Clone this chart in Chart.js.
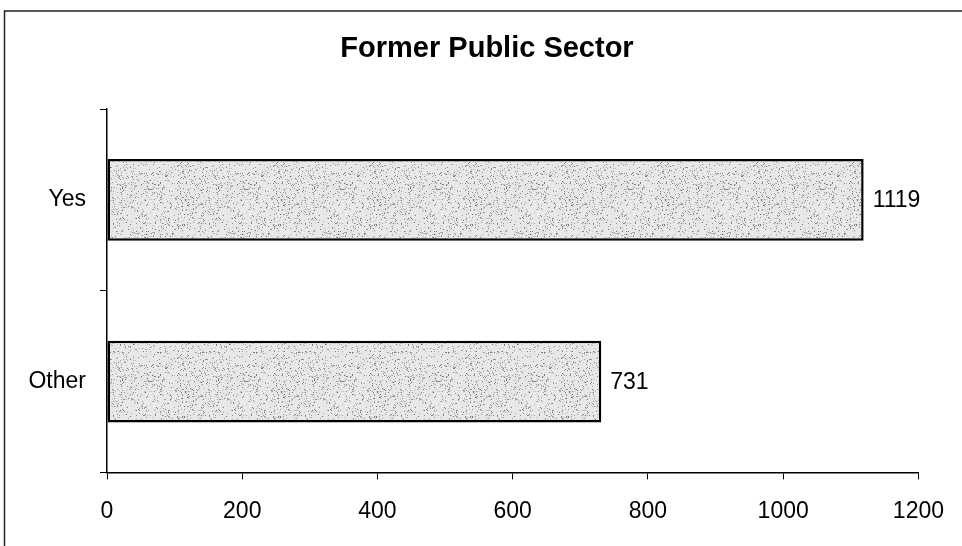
<!DOCTYPE html>
<html>
<head>
<meta charset="utf-8">
<script src="https://cdn.jsdelivr.net/npm/chart.js@4.4.0/dist/chart.umd.min.js"></script>
<style>
    html, body { margin: 0; padding: 0; background: #fff; }
    #wrap { width: 962px; height: 546px; position: relative; }
</style>
</head>
<body>
<div id="wrap"><canvas id="chart" width="962" height="546"></canvas></div>
<script>
// Data
const chartTitle = 'Former Public Sector';
const categories = ['Yes', 'Other'];
const values = [1119, 731];
const xTicks = [0, 200, 400, 600, 800, 1000, 1200];

const FONT = '"Liberation Sans", Arial, sans-serif';

// Stippled grey fill, like the scanned original (fixed seed so it looks the same every run)
function makeStipple() {
    const c = document.createElement('canvas');
    c.width = 96; c.height = 96;
    const g = c.getContext('2d');
    g.fillStyle = '#e8e8e8';
    g.fillRect(0, 0, 96, 96);
    let seed = 12345;
    const rnd = () => { seed = (seed * 1103515245 + 12345) % 2147483648; return seed / 2147483648; };
    for (let i = 0; i < 1300; i++) {
        const shade = Math.floor(110 + rnd() * 100);
        g.fillStyle = `rgb(${shade},${shade},${shade})`;
        g.fillRect(Math.floor(rnd() * 96), Math.floor(rnd() * 96), 1, 1);
    }
    return g.createPattern(c, 'repeat');
}

// Frame lines (top and left only, as in the scan) + title centred on the page
const framePlugin = {
    id: 'frame',
    afterDraw(chart) {
        const ctx = chart.ctx;
        ctx.save();
        ctx.strokeStyle = '#222';
        ctx.lineWidth = 1.5;
        ctx.beginPath();
        ctx.moveTo(4.5, 546);
        ctx.lineTo(4.5, 11);
        ctx.lineTo(962, 11);
        ctx.stroke();

        ctx.font = 'bold 29px ' + FONT;
        ctx.fillStyle = '#000';
        ctx.textAlign = 'center';
        ctx.textBaseline = 'middle';
        ctx.fillText(chartTitle, 487, 49);
        ctx.restore();
    }
};

// Value labels at the bar ends
const valueLabels = {
    id: 'valueLabels',
    afterDatasetsDraw(chart) {
        const ctx = chart.ctx;
        const meta = chart.getDatasetMeta(0);
        ctx.save();
        ctx.font = '23px ' + FONT;
        ctx.fillStyle = '#000';
        ctx.textAlign = 'left';
        ctx.textBaseline = 'middle';
        meta.data.forEach((bar, i) => {
            ctx.fillText(String(values[i]), bar.x + 9, bar.y + 1);
        });
        ctx.restore();
    }
};

const tickFont = { family: FONT, size: 23 };

new Chart(document.getElementById('chart').getContext('2d'), {
    type: 'bar',
    data: {
        labels: categories,
        datasets: [{
            data: values,
            backgroundColor: makeStipple(),
            borderColor: '#000',
            borderWidth: 2.5,
            borderSkipped: false,
            barPercentage: 0.9,
            categoryPercentage: 0.5
        }]
    },
    options: {
        indexAxis: 'y',
        responsive: false,
        animation: false,
        layout: { padding: { top: 109, right: 41, bottom: 3, left: 0 } },
        plugins: {
            legend: { display: false },
            tooltip: { enabled: false },
            title: { display: false }
        },
        scales: {
            x: {
                min: 0,
                max: 1200,
                afterBuildTicks: (axis) => { axis.ticks = xTicks.map(v => ({ value: v })); },
                grid: { drawOnChartArea: false, color: '#000', tickLength: 7, tickColor: '#000' },
                border: { display: true, color: '#000', width: 1.5 },
                ticks: { color: '#000', font: tickFont, padding: 18, maxRotation: 0, callback: (v) => String(v) }
            },
            y: {
                offset: true,
                grid: { offset: true, drawOnChartArea: false, color: '#000', tickLength: 7, tickColor: '#000' },
                border: { display: true, color: '#000', width: 1.5 },
                ticks: { color: '#000', font: tickFont, padding: 14 },
                afterFit: (axis) => { axis.width = 107; }
            }
        }
    },
    plugins: [framePlugin, valueLabels]
});
</script>
</body>
</html>
